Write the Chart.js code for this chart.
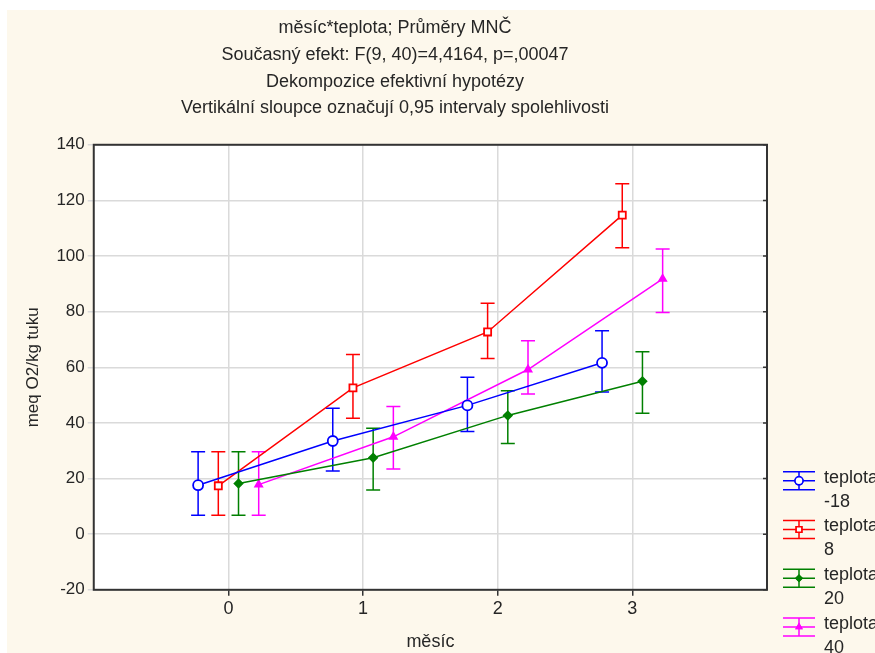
<!DOCTYPE html>
<html>
<head>
<meta charset="utf-8">
<script src="https://cdn.jsdelivr.net/npm/chart.js@4.4.1/dist/chart.umd.min.js"></script>
<style>
  html, body { margin: 0; padding: 0; background: #fff; overflow: hidden; width: 875px; height: 653px; }
  #wrap { position: absolute; left: 7px; top: 10px; width: 886px; height: 643px; background: #fdf8ec; }
</style>
</head>
<body>
<div id="wrap"><canvas id="graph" width="886" height="643"></canvas></div>
<script>
// months on the x axis
const months = [0, 1, 2, 3]
const seriesNames = ["teplota -18", "teplota 8", "teplota 20", "teplota 40"]

// means and 0.95 confidence limits, per temperature
const meanM18 = [17.6, 33.5, 46.3, 61.6]
const lowM18  = [6.8, 22.7, 36.9, 51.1]
const highM18 = [29.6, 45.3, 56.4, 73.1]

const mean8 = [17.4, 52.6, 72.7, 114.7]
const low8  = [6.8, 41.7, 63.2, 103.0]
const high8 = [29.6, 64.6, 83.0, 126.0]

const mean20 = [18.2, 27.5, 42.7, 55.0]
const low20  = [6.8, 15.9, 32.6, 43.5]
const high20 = [29.6, 38.1, 51.6, 65.6]

const mean40 = [17.8, 35.0, 59.2, 91.8]
const low40  = [6.8, 23.4, 50.4, 79.7]
const high40 = [29.6, 45.9, 69.5, 102.5]

const yTicks = [-20, 0, 20, 40, 60, 80, 100, 120, 140]

const titleLines = [
  "měsíc*teplota; Průměry MNČ",
  "Současný efekt: F(9, 40)=4,4164, p=,00047",
  "Dekompozice efektivní hypotézy",
  "Vertikální sloupce označují 0,95 intervaly spolehlivosti"
]

const colors = ["rgb(0,0,255)", "rgb(255,0,0)", "rgb(0,128,0)", "rgb(255,0,255)"]
const shift = [-0.225, -0.075, 0.075, 0.225]   // small dodge so bars don't overlap
const styles = [
  { pointStyle: "circle", radius: 5, fill: "#fff" },
  { pointStyle: "rect", radius: 5, fill: "#fff" },
  { pointStyle: "rectRot", radius: 4, fill: null },
  { pointStyle: "triangle", radius: 4, fill: null }
]

const means = [meanM18, mean8, mean20, mean40]
const lows = [lowM18, low8, low20, low40]
const highs = [highM18, high8, high20, high40]

const textColor = "#262626"
Chart.defaults.font.family = "'Liberation Sans', Arial, sans-serif"
Chart.defaults.color = textColor

const datasets = means.map((m, i) => ({
  label: seriesNames[i],
  data: m.map((v, j) => ({ x: months[j] + shift[i], y: v })),
  low: lows[i],
  high: highs[i],
  borderColor: colors[i],
  borderWidth: 1.5,
  pointStyle: styles[i].pointStyle,
  pointRadius: styles[i].radius,
  pointBorderWidth: 1.8,
  pointBorderColor: colors[i],
  pointBackgroundColor: styles[i].fill || colors[i],
  tension: 0
}))

// white plot area
const plotBg = {
  id: "plotBg",
  beforeDraw(chart) {
    const { ctx, chartArea: a } = chart
    ctx.save()
    ctx.fillStyle = "#fff"
    ctx.fillRect(a.left, a.top, a.right - a.left, a.bottom - a.top)
    ctx.restore()
  }
}

// vertical confidence bars
const errorBars = {
  id: "errorBars",
  beforeDatasetsDraw(chart) {
    const { ctx, scales: { x, y } } = chart
    ctx.save()
    ctx.lineWidth = 1.5
    chart.data.datasets.forEach(ds => {
      ctx.strokeStyle = ds.borderColor
      ds.data.forEach((p, j) => {
        const px = x.getPixelForValue(p.x)
        const top = y.getPixelForValue(ds.high[j])
        const bot = y.getPixelForValue(ds.low[j])
        ctx.beginPath()
        ctx.moveTo(px, top); ctx.lineTo(px, bot)
        ctx.moveTo(px - 7, top); ctx.lineTo(px + 7, top)
        ctx.moveTo(px - 7, bot); ctx.lineTo(px + 7, bot)
        ctx.stroke()
      })
    })
    ctx.restore()
  }
}

// frame round the plot and inner ticks on the right side
const frame = {
  id: "frame",
  afterDraw(chart) {
    const { ctx, chartArea: a, scales: { y } } = chart
    ctx.save()
    ctx.strokeStyle = "#333"
    ctx.lineWidth = 2
    ctx.strokeRect(a.left, a.top, a.right - a.left, a.bottom - a.top)
    ctx.lineWidth = 1.5
    ctx.beginPath()
    yTicks.forEach(v => {
      const py = y.getPixelForValue(v)
      ctx.moveTo(a.right - 4, py); ctx.lineTo(a.right, py)
    })
    ctx.stroke()
    ctx.restore()
  }
}

// legend with two-line labels and error bar symbols
const sideLegend = {
  id: "sideLegend",
  afterDraw(chart) {
    const { ctx, chartArea: a } = chart
    ctx.save()
    ctx.font = "18px 'Liberation Sans', Arial, sans-serif"
    ctx.textBaseline = "middle"
    chart.data.datasets.forEach((ds, i) => {
      const x0 = a.right + 16
      const cy = a.bottom - 109 + i * 48.7
      ctx.strokeStyle = ds.borderColor
      ctx.lineWidth = 1.5
      ctx.beginPath()
      ctx.moveTo(x0, cy - 9); ctx.lineTo(x0 + 32, cy - 9)
      ctx.moveTo(x0, cy); ctx.lineTo(x0 + 32, cy)
      ctx.moveTo(x0, cy + 9); ctx.lineTo(x0 + 32, cy + 9)
      ctx.moveTo(x0 + 16, cy - 9); ctx.lineTo(x0 + 16, cy + 9)
      ctx.stroke()
      Chart.helpers.drawPoint(ctx, {
        pointStyle: ds.pointStyle, radius: ds.pointRadius - 1, borderWidth: 1.5
      }, x0 + 16, cy)
      ctx.fillStyle = ds.pointBackgroundColor
      ctx.fill()
      ctx.stroke()
      const parts = ds.label.split(" ")
      ctx.fillStyle = textColor
      ctx.fillText(parts[0], x0 + 41, cy - 3)
      ctx.fillText(parts[1], x0 + 41, cy + 21)
    })
    ctx.restore()
  }
}

new Chart(document.getElementById("graph"), {
  type: "line",
  data: { datasets },
  options: {
    responsive: false,
    animation: false,
    layout: { padding: { left: 16, right: 126, top: 0, bottom: 0 } },
    plugins: {
      legend: { display: false },
      tooltip: { enabled: false },
      title: {
        display: true,
        text: titleLines,
        color: textColor,
        font: { size: 18, weight: "normal", lineHeight: 1.483 },
        padding: { top: 5, bottom: 23 }
      }
    },
    scales: {
      x: {
        type: "linear",
        min: -1,
        max: 4,
        afterBuildTicks: axis => { axis.ticks = months.map(v => ({ value: v })) },
        grid: { color: "#dadada", lineWidth: 1.5, tickLength: 6, tickColor: "#333" },
        border: { display: false },
        ticks: { font: { size: 18 }, padding: 2, color: textColor },
        title: { display: true, text: "měsíc", font: { size: 18 }, padding: { top: 10, bottom: 0 }, color: textColor }
      },
      y: {
        min: -20,
        max: 140,
        afterBuildTicks: axis => { axis.ticks = yTicks.map(v => ({ value: v })) },
        grid: { color: "#dadada", lineWidth: 1.5, tickLength: 6 },
        border: { display: false },
        ticks: { font: { size: 17 }, padding: 3, color: textColor },
        title: { display: true, text: "meq O2/kg tuku", font: { size: 17 }, padding: { top: 0, bottom: 10 }, color: textColor }
      }
    }
  },
  plugins: [plotBg, errorBars, frame, sideLegend]
})
</script>
</body>
</html>
